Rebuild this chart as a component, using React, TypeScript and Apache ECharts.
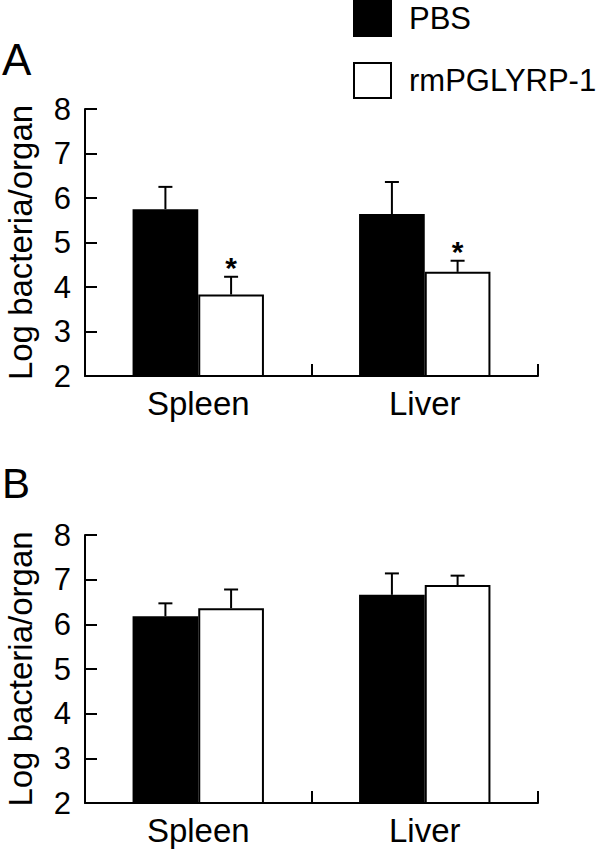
import React, { useEffect, useRef } from "react";
import * as echarts from "echarts";

const categories = ["Spleen", "Liver"];
const seriesNames = ["PBS", "rmPGLYRP-1"];
const yTicks = [2, 3, 4, 5, 6, 7, 8];

// Panel A
const aPbs = [5.75, 5.64];
const aPbsErr = [0.5, 0.72];
const aRm = [3.83, 4.34];
const aRmErr = [0.4, 0.25];
const aRmSig = [1, 1];

// Panel B
const bPbs = [6.18, 6.66];
const bPbsErr = [0.29, 0.48];
const bRm = [6.36, 6.88];
const bRmErr = [0.42, 0.21];
const bRmSig = [0, 0];

const FONT = "'Liberation Sans', Arial, sans-serif";
const BAR_FRAC = 0.29;

function errSeries(gridIdx: number, vals: number[], errs: number[], sig: number[], side: number) {
  return {
    type: "custom",
    xAxisIndex: gridIdx,
    yAxisIndex: gridIdx,
    z: 5,
    data: categories.map((_, i) => [i, vals[i], errs[i], sig[i]]),
    encode: { x: 0, y: 1 },
    renderItem: (params: any, api: any) => {
      const cat = api.value(0);
      const v = api.value(1);
      const e = api.value(2);
      const s = api.value(3);
      const base = api.coord([cat, v]);
      const top = api.coord([cat, v + e]);
      const band = api.size([1, 0])[0];
      const x = base[0] + (side * band * BAR_FRAC) / 2;
      const st = { stroke: "#000", lineWidth: 2 };
      const children: any[] = [
        { type: "line", shape: { x1: x, y1: base[1], x2: x, y2: top[1] }, style: st },
        { type: "line", shape: { x1: x - 7, y1: top[1], x2: x + 7, y2: top[1] }, style: st },
      ];
      if (s) {
        children.push({
          type: "text",
          x: x,
          y: top[1] - 9,
          style: {
            text: "*",
            fill: "#000",
            font: `bold 30px ${FONT}`,
            align: "center",
            verticalAlign: "middle",
          },
        });
      }
      return { type: "group", children };
    },
  };
}

function barSeries(gridIdx: number, name: string, vals: number[], fill: string) {
  return {
    type: "bar",
    name,
    xAxisIndex: gridIdx,
    yAxisIndex: gridIdx,
    data: vals,
    barWidth: `${BAR_FRAC * 100}%`,
    barGap: "0%",
    itemStyle: { color: fill, borderColor: "#000", borderWidth: 2 },
    z: 2,
  };
}

function xAxisDef(gridIdx: number) {
  return {
    type: "category",
    gridIndex: gridIdx,
    data: categories,
    boundaryGap: true,
    axisLine: { show: true, lineStyle: { color: "#000", width: 2 } },
    axisTick: { show: true, inside: true, length: 12, lineStyle: { color: "#000", width: 2 } },
    axisLabel: { color: "#000", fontSize: 33, fontFamily: FONT, margin: 11 },
    splitLine: { show: false },
  };
}

function yAxisDef(gridIdx: number) {
  return {
    type: "value",
    gridIndex: gridIdx,
    min: yTicks[0],
    max: yTicks[yTicks.length - 1],
    interval: 1,
    name: "Log bacteria/organ",
    nameLocation: "middle",
    nameRotate: 90,
    nameGap: 48,
    nameTextStyle: { color: "#000", fontSize: 33, fontFamily: FONT },
    axisLine: { show: true, lineStyle: { color: "#000", width: 2 } },
    axisTick: { show: true, inside: true, length: 12, lineStyle: { color: "#000", width: 2 } },
    axisLabel: { color: "#000", fontSize: 31, fontFamily: FONT, margin: 14 },
    splitLine: { show: false },
  };
}

export default function App() {
  const ref = useRef<HTMLDivElement>(null);
  useEffect(() => {
    if (!ref.current) return;
    const chart = echarts.init(ref.current, undefined, { renderer: "svg" });
    chart.setOption({
      animation: false,
      backgroundColor: "#fff",
      grid: [
        { left: 85, top: 109, width: 453, height: 267, outerBoundsMode: "none", containLabel: false },
        { left: 85, top: 535, width: 453, height: 268, outerBoundsMode: "none", containLabel: false },
      ],
      legend: {
        orient: "vertical",
        left: 353,
        top: 0,
        padding: 0,
        itemWidth: 37,
        itemHeight: 35,
        itemGap: 25,
        icon: "rect",
        selectedMode: false,
        textStyle: { color: "#000", fontSize: 31, fontFamily: FONT, padding: [0, 0, 0, 13] },
        data: [
          { name: seriesNames[0], itemStyle: { color: "#000", borderColor: "#000", borderWidth: 2 } },
          { name: seriesNames[1], itemStyle: { color: "#fff", borderColor: "#000", borderWidth: 2 } },
        ],
      },
      graphic: [
        { type: "text", left: 2, top: 37, style: { text: "A", fill: "#000", font: `44px ${FONT}` } },
        { type: "text", left: 2, top: 462, style: { text: "B", fill: "#000", font: `42px ${FONT}` } },
      ],
      xAxis: [xAxisDef(0), xAxisDef(1)],
      yAxis: [yAxisDef(0), yAxisDef(1)],
      series: [
        barSeries(0, seriesNames[0], aPbs, "#000"),
        barSeries(0, seriesNames[1], aRm, "#fff"),
        barSeries(1, seriesNames[0], bPbs, "#000"),
        barSeries(1, seriesNames[1], bRm, "#fff"),
        errSeries(0, aPbs, aPbsErr, [0, 0], -1),
        errSeries(0, aRm, aRmErr, aRmSig, 1),
        errSeries(1, bPbs, bPbsErr, [0, 0], -1),
        errSeries(1, bRm, bRmErr, bRmSig, 1),
      ],
    });
    return () => chart.dispose();
  }, []);
  return (
    <div
      ref={ref}
      style={{ position: "absolute", left: 0, top: 0, width: 600, height: 850, background: "#fff" }}
    />
  );
}
